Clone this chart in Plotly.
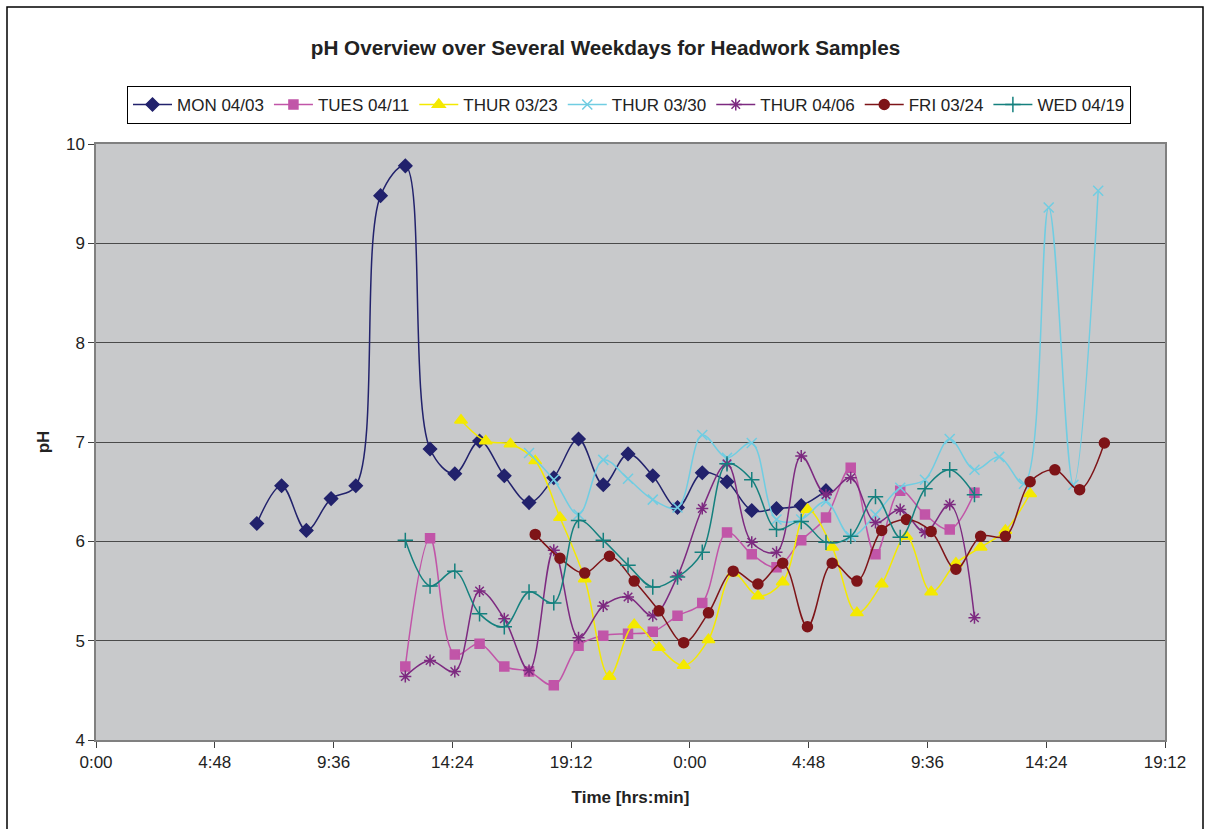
import plotly.graph_objects as go

# ---- data (hours since 0:00 of first day, pH) ----
mon_t = [6.5, 7.5, 8.5, 9.5, 10.5, 11.5, 12.5, 13.5, 14.5, 15.5, 16.5, 17.5,
         18.5, 19.5, 20.5, 21.5, 22.5, 23.5, 24.5, 25.5, 26.5, 27.5, 28.5, 29.5]
mon_ph = [6.18, 6.56, 6.11, 6.43, 6.56, 9.48, 9.78, 6.93, 6.68, 7.01, 6.66, 6.39,
          6.64, 7.03, 6.57, 6.88, 6.66, 6.34, 6.69, 6.60, 6.31, 6.33, 6.36, 6.51]

tue_t = [12.5, 13.5, 14.5, 15.5, 16.5, 17.5, 18.5, 19.5, 20.5, 21.5, 22.5, 23.5,
         24.5, 25.5, 26.5, 27.5, 28.5, 29.5, 30.5, 31.5, 32.5, 33.5, 34.5, 35.5]
tue_ph = [4.74, 6.03, 4.86, 4.97, 4.74, 4.69, 4.55, 4.95, 5.05, 5.07, 5.09, 5.25,
          5.38, 6.09, 5.87, 5.74, 6.01, 6.24, 6.74, 5.87, 6.51, 6.27, 6.12, 6.49]

thu23_t = [14.75, 15.75, 16.75, 17.75, 18.75, 19.75, 20.75, 21.75, 22.75, 23.75, 24.75, 25.75,
           26.75, 27.75, 28.75, 29.75, 30.75, 31.75, 32.75, 33.75, 34.75, 35.75, 36.75, 37.75]
thu23_ph = [7.22, 7.01, 6.98, 6.81, 6.24, 5.62, 4.64, 5.16, 4.93, 4.75, 5.01, 5.68,
            5.45, 5.59, 6.32, 5.94, 5.28, 5.57, 6.05, 5.49, 5.78, 5.94, 6.11, 6.48]

thu30_t = [17.5, 18.5, 19.5, 20.5, 21.5, 22.5, 23.5, 24.5, 25.5, 26.5, 27.5, 28.5,
           29.5, 30.5, 31.5, 32.5, 33.5, 34.5, 35.5, 36.5, 37.5, 38.5, 39.5, 40.5]
thu30_ph = [6.89, 6.62, 6.27, 6.82, 6.63, 6.42, 6.34, 7.07, 6.84, 6.99, 6.22, 6.22,
            6.40, 6.05, 6.27, 6.54, 6.62, 7.03, 6.72, 6.85, 6.58, 9.36, 6.57, 9.53]

thu06_t = [12.5, 13.5, 14.5, 15.5, 16.5, 17.5, 18.5, 19.5, 20.5, 21.5, 22.5, 23.5,
           24.5, 25.5, 26.5, 27.5, 28.5, 29.5, 30.5, 31.5, 32.5, 33.5, 34.5, 35.5]
thu06_ph = [4.64, 4.80, 4.69, 5.50, 5.22, 4.70, 5.91, 5.03, 5.35, 5.44, 5.25, 5.65,
            6.33, 6.78, 5.99, 5.89, 6.86, 6.47, 6.64, 6.19, 6.32, 6.09, 6.37, 5.23]

fri_t = [17.75, 18.75, 19.75, 20.75, 21.75, 22.75, 23.75, 24.75, 25.75, 26.75, 27.75, 28.75,
         29.75, 30.75, 31.75, 32.75, 33.75, 34.75, 35.75, 36.75, 37.75, 38.75, 39.75, 40.75]
fri_ph = [6.07, 5.83, 5.68, 5.85, 5.60, 5.30, 4.98, 5.28, 5.70, 5.57, 5.78, 5.14,
          5.78, 5.60, 6.11, 6.22, 6.10, 5.72, 6.05, 6.05, 6.60, 6.72, 6.52, 6.99]

wed_t = [12.5, 13.5, 14.5, 15.5, 16.5, 17.5, 18.5, 19.5, 20.5, 21.5, 22.5, 23.5,
         24.5, 25.5, 26.5, 27.5, 28.5, 29.5, 30.5, 31.5, 32.5, 33.5, 34.5, 35.5]
wed_ph = [6.01, 5.55, 5.70, 5.27, 5.14, 5.49, 5.38, 6.21, 6.01, 5.76, 5.54, 5.64,
          5.89, 6.78, 6.62, 6.12, 6.20, 5.99, 6.05, 6.45, 6.04, 6.53, 6.72, 6.47]

series_names = ["MON 04/03", "TUES 04/11", "THUR 03/23", "THUR 03/30",
                "THUR 04/06", "FRI 03/24", "WED 04/19"]

x_tick_vals = [0, 4.8, 9.6, 14.4, 19.2, 24.0, 28.8, 33.6, 38.4, 43.2]
x_tick_text = ["0:00", "4:48", "9:36", "14:24", "19:12",
               "0:00", "4:48", "9:36", "14:24", "19:12"]
y_tick_vals = [4, 5, 6, 7, 8, 9, 10]

# ---- styles ----
styles = [
    dict(color="#22226C", symbol="diamond", size=10),
    dict(color="#C155A8", symbol="square", size=9),
    dict(color="#F4E900", symbol="triangle-up", size=11),
    dict(color="#70CDE2", symbol="x-thin-open", size=10),
    dict(color="#7D2A80", symbol="asterisk-open", size=10),
    dict(color="#7E1418", symbol="circle", size=10),
    dict(color="#14807E", symbol="cross-thin-open", size=11),
]
data = [(mon_t, mon_ph), (tue_t, tue_ph), (thu23_t, thu23_ph), (thu30_t, thu30_ph),
        (thu06_t, thu06_ph), (fri_t, fri_ph), (wed_t, wed_ph)]

FONT = "Liberation Sans, Arial, sans-serif"

fig = go.Figure()
for name, (t, ph), st in zip(series_names, data, styles):
    fig.add_trace(go.Scatter(
        x=t, y=ph, name=name, mode="lines+markers",
        line=dict(color=st["color"], width=1.5, shape="spline", smoothing=1.0),
        marker=dict(symbol=st["symbol"], size=st["size"], color=st["color"],
                    line=dict(color=st["color"], width=1.5)),
    ))

# outer chart border (paper coords relative to plot area)
L, R, T, B = 96, 1165, 144, 740
pw, ph_ = R - L, B - T
def px(xp):
    return (xp - L) / pw
def py(yp):
    return (B - yp) / ph_

fig.add_shape(type="rect", xref="paper", yref="paper",
              x0=px(7), x1=px(1203), y0=py(835), y1=py(7),
              line=dict(color="black", width=1.5), layer="below")

fig.update_layout(
    width=1211, height=829,
    margin=dict(l=L, r=1211 - R, t=T, b=829 - B, pad=0),
    paper_bgcolor="white", plot_bgcolor="#C8C9CB",
    font=dict(family=FONT, size=17, color="#222222"),
    title=dict(text="<b>pH Overview over Several Weekdays for Headwork Samples</b>",
               x=0.5, xanchor="center", y=1 - 48 / 829, yanchor="middle",
               font=dict(size=20.7, color="#222222")),
    showlegend=True,
    legend=dict(orientation="h", x=px(127), xanchor="left", y=py(86), yanchor="top",
                bordercolor="black", borderwidth=1, bgcolor="white",
                font=dict(size=17, color="#222222"), itemwidth=39,
                tracegroupgap=0),
    xaxis=dict(range=[0, 43.2], tickvals=x_tick_vals, ticktext=x_tick_text,
               showgrid=False, zeroline=False, showline=True, linecolor="#808080",
               linewidth=1.5, mirror=True, ticks="outside", ticklen=6,
               tickcolor="#404040", tickfont=dict(size=17),
               title=dict(text="<b>Time [hrs:min]</b>", font=dict(size=17), standoff=20)),
    yaxis=dict(range=[4, 10], tickvals=y_tick_vals, showgrid=True,
               gridcolor="#4A4A4A", gridwidth=1, zeroline=False, showline=True,
               linecolor="#808080", linewidth=1.5, mirror=True, ticks="outside",
               ticklen=6, tickcolor="#404040", tickfont=dict(size=17),
               title=dict(text="<b>pH</b>", font=dict(size=17), standoff=12)),
)

fig.write_html("out.html")
